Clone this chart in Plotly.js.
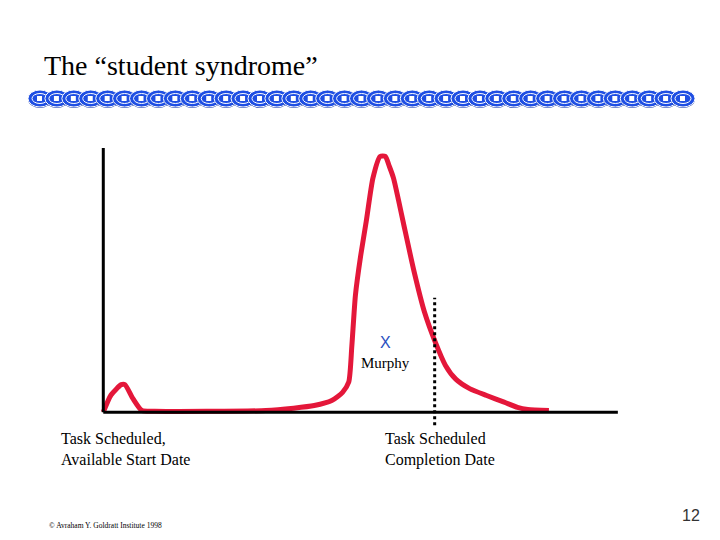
<!DOCTYPE html>
<html>
<head>
<meta charset="utf-8">
<script src="https://cdn.plot.ly/plotly-3.0.1.min.js"></script>
<style>html,body{margin:0;padding:0;background:#fff;}#chart{width:720px;height:540px;}</style>
</head>
<body>
<div id="chart"></div>
<script>
// ---- data ----
const effortX = [0, 1.5, 3.5, 4.2, 5.8, 7.5, 10, 20, 31.6, 37, 41.0, 44.4, 46.5, 47.7, 48.3, 49.0, 50.0, 51.1, 52.4, 53.8, 54.8, 55.6, 56.4, 57.4, 58.4, 60.4, 62.4, 64.5, 66.5, 68.5, 71.2, 74.5, 77.9, 80.5, 82.5, 86.6];
const effortY = [0, 6.5, 10.4, 10.4, 5, 0.6, 0.3, 0.3, 0.6, 1.5, 2.5, 4.4, 7.5, 11.4, 25, 44.3, 59, 72.2, 88.6, 96.8, 96.8, 93, 88.6, 80, 70.9, 53.2, 38.0, 26.6, 17.7, 12.5, 8.9, 6.3, 3.8, 1.8, 1.0, 0.6];
const completionX = 64.4;
const completionTop = 43.3;
const murphyX = 54.8;
const murphyY = 26.5;
const titleText = 'The \u201cstudent syndrome\u201d';
const startLabel = 'Task Scheduled,<br>Available Start Date';
const endLabel = 'Task Scheduled<br>Completion Date';
const footerText = '\u00a9 Avraham Y. Goldratt Institute 1998';
const pageNumber = '12';

// ---- layout helpers ----
const M = {l: 93, r: 97, t: 148, b: 112};
const PW = 720 - M.l - M.r, PH = 540 - M.t - M.b;
const px = x => (x - M.l) / PW;
const py = y => (540 - M.b - y) / PH;

const serif = 'Liberation Serif, Times New Roman, serif';
const sans = 'Liberation Sans, Arial, sans-serif';

const shapes = [];
// axes
shapes.push({type: 'line', xref: 'x', yref: 'y', x0: 0, x1: 0, y0: 0, y1: 100, line: {color: '#000', width: 3}});
shapes.push({type: 'line', xref: 'x', yref: 'y', x0: 0, x1: 100, y0: 0, y1: 0, line: {color: '#000', width: 3}});
// completion date dotted marker
shapes.push({type: 'line', xref: 'x', yref: 'y', x0: completionX, x1: completionX, y0: -5, y1: completionTop, line: {color: '#000', width: 3, dash: 'dot'}});

// decorative chain under the title
const nLinks = 39, cx0 = 40, cx1 = 683, cy = 98.5;
const step = (cx1 - cx0) / (nLinks - 1);
const blue = '#1f4fe3';
for (let i = 0; i < nLinks; i++) {
  const c = cx0 + i * step;
  shapes.push({type: 'circle', xref: 'paper', yref: 'paper', x0: px(c - 12), x1: px(c + 12), y0: py(cy + 9.5), y1: py(cy - 8.5), fillcolor: '#0b2fa8', line: {width: 0}});
  shapes.push({type: 'circle', xref: 'paper', yref: 'paper', x0: px(c - 12), x1: px(c + 12), y0: py(cy + 8.5), y1: py(cy - 8.5), fillcolor: blue, line: {color: '#ffffff', width: 1}});
  shapes.push({type: 'circle', xref: 'paper', yref: 'paper', x0: px(c - 8), x1: px(c + 8), y0: py(cy + 5), y1: py(cy - 5), fillcolor: blue, line: {color: '#ffffff', width: 1}});
  shapes.push({type: 'rect', xref: 'paper', yref: 'paper', x0: px(c - 3), x1: px(c + 2), y0: py(cy + 2.5), y1: py(cy - 2.5), fillcolor: '#ffffff', line: {width: 0}});
}

const annotations = [
  {xref: 'x', yref: 'y', x: murphyX, y: murphyY, yanchor: 'middle', text: 'X', showarrow: false, font: {family: sans, size: 16, color: '#2a4fc0'}},
  {xref: 'paper', yref: 'paper', x: px(385), y: py(363), yanchor: 'middle', text: 'Murphy', showarrow: false, font: {family: serif, size: 15, color: '#000'}},
  {xref: 'paper', yref: 'paper', x: px(59), y: py(449), xanchor: 'left', yanchor: 'middle', align: 'left', text: startLabel, showarrow: false, font: {family: serif, size: 16, color: '#000'}},
  {xref: 'paper', yref: 'paper', x: px(383), y: py(449), xanchor: 'left', yanchor: 'middle', align: 'left', text: endLabel, showarrow: false, font: {family: serif, size: 16, color: '#000'}},
  {xref: 'paper', yref: 'paper', x: px(47), y: py(525), xanchor: 'left', yanchor: 'middle', text: footerText, showarrow: false, font: {family: serif, size: 7.5, color: '#000'}},
  {xref: 'paper', yref: 'paper', x: px(702), y: py(515), xanchor: 'right', yanchor: 'middle', text: pageNumber, showarrow: false, font: {family: sans, size: 16, color: '#333'}}
];

const trace = {
  x: effortX, y: effortY, type: 'scatter', mode: 'lines',
  line: {color: '#e4173a', width: 5, shape: 'spline', smoothing: 0.6},
  hoverinfo: 'skip'
};

const layout = {
  width: 720, height: 540,
  margin: M,
  paper_bgcolor: '#fff', plot_bgcolor: '#fff',
  showlegend: false,
  title: {text: titleText, xref: 'container', yref: 'container', x: 44 / 720, xanchor: 'left', y: 1 - 65 / 540, yanchor: 'middle', font: {family: serif, size: 28, color: '#000'}},
  xaxis: {range: [-2, 101], visible: false, fixedrange: true},
  yaxis: {range: [-6, 100], visible: false, fixedrange: true},
  shapes: shapes,
  annotations: annotations
};

Plotly.newPlot('chart', [trace], layout, {staticPlot: true, displayModeBar: false});
</script>
</body>
</html>
